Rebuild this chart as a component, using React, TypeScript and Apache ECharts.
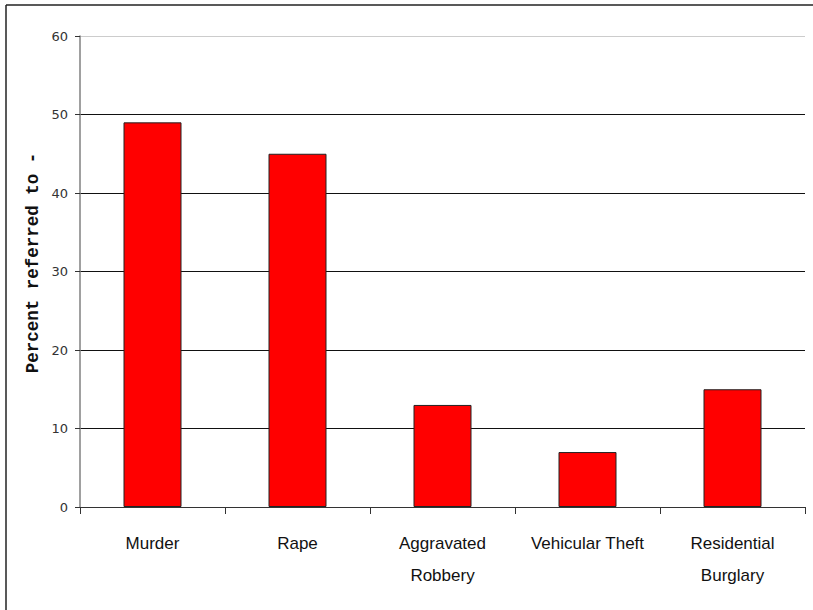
import React, { useEffect, useRef } from "react";
import * as echarts from "echarts";

const categories = ["Murder", "Rape", "Aggravated\nRobbery", "Vehicular Theft", "Residential\nBurglary"];
const values = [49, 45, 13, 7, 15];
const yTitle = "Percent referred to -";

export default function App() {
  const ref = useRef<HTMLDivElement>(null);
  useEffect(() => {
    if (!ref.current) return;
    const chart = echarts.init(ref.current, null, { renderer: "svg" });
    chart.setOption({
      animation: false,
      backgroundColor: "#ffffff",
      grid: { left: 80, right: 8, top: 36, bottom: 103, containLabel: false },
      xAxis: {
        type: "category",
        data: categories,
        boundaryGap: true,
        axisLine: { show: true, lineStyle: { color: "#333", width: 1 } },
        axisTick: { show: true, length: 7, alignWithLabel: false, lineStyle: { color: "#333" } },
        axisLabel: {
          interval: 0,
          margin: 20,
          color: "#111",
          fontSize: 17,
          lineHeight: 32,
          fontFamily: "'Liberation Sans', Arial, sans-serif",
        },
        splitLine: { show: false },
      },
      yAxis: {
        type: "value",
        min: 0,
        max: 60,
        interval: 10,
        axisLine: { show: true, lineStyle: { color: "#808080", width: 1.5 } },
        axisTick: { show: true, length: 5, lineStyle: { color: "#333" } },
        axisLabel: {
          margin: 12,
          color: "#333",
          fontSize: 13,
          fontFamily: "'DejaVu Sans', sans-serif",
        },
        splitLine: {
          show: true,
          lineStyle: { color: ["#111", "#111", "#111", "#111", "#111", "#111", "#cccccc"], width: 1 },
        },
      },
      series: [
        {
          type: "bar",
          data: values,
          barWidth: "40%",
          itemStyle: { color: "#ff0000", borderColor: "#222", borderWidth: 1 },
        },
      ],
      graphic: [
        {
          type: "line",
          shape: { x1: 6, y1: 5, x2: 813, y2: 5 },
          style: { stroke: "#222", lineWidth: 1.5 },
        },
        {
          type: "line",
          shape: { x1: 6, y1: 5, x2: 6, y2: 610 },
          style: { stroke: "#222", lineWidth: 1.5 },
        },
        {
          type: "text",
          x: 33,
          y: 263,
          rotation: Math.PI / 2,
          style: {
            text: yTitle,
            font: "bold 17.5px 'Liberation Mono', 'DejaVu Sans Mono', monospace",
            fill: "#111",
            textAlign: "center",
            textVerticalAlign: "middle",
          },
        },
      ],
    });
    return () => chart.dispose();
  }, []);
  return (
    <div
      ref={ref}
      style={{ position: "fixed", left: 0, top: 0, width: 813, height: 610 }}
    />
  );
}
